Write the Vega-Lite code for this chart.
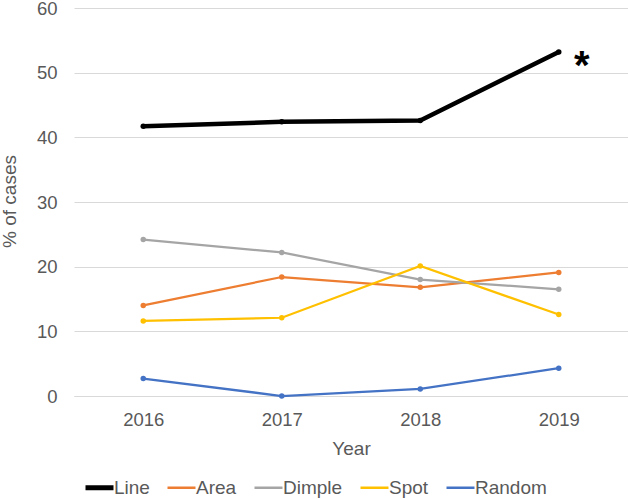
{
  "$schema": "https://vega.github.io/schema/vega-lite/v6.json",
  "autosize": {"type": "none"},
  "width": 554,
  "height": 388,
  "padding": {"left": 74, "top": 8, "right": 0, "bottom": 103},
  "background": "white",
  "config": {
    "view": {"stroke": null},
    "font": "Liberation Sans",
    "axis": {"labelColor": "#595959", "titleColor": "#595959", "labelFontSize": 18.5, "titleFontSize": 19, "titleFontWeight": "normal", "labelFont": "Liberation Sans", "titleFont": "Liberation Sans"},
    "legend": {"labelColor": "#595959", "labelFontSize": 19, "labelFont": "Liberation Sans"}
  },
  "data": {
    "values": [
      {"Year": "2016", "series": "Line", "value": 41.7},
      {"Year": "2017", "series": "Line", "value": 42.4},
      {"Year": "2018", "series": "Line", "value": 42.6},
      {"Year": "2019", "series": "Line", "value": 53.2},
      {"Year": "2016", "series": "Area", "value": 14.0},
      {"Year": "2017", "series": "Area", "value": 18.4},
      {"Year": "2018", "series": "Area", "value": 16.8},
      {"Year": "2019", "series": "Area", "value": 19.1},
      {"Year": "2016", "series": "Dimple", "value": 24.2},
      {"Year": "2017", "series": "Dimple", "value": 22.2},
      {"Year": "2018", "series": "Dimple", "value": 18.0},
      {"Year": "2019", "series": "Dimple", "value": 16.5},
      {"Year": "2016", "series": "Spot", "value": 11.6},
      {"Year": "2017", "series": "Spot", "value": 12.1},
      {"Year": "2018", "series": "Spot", "value": 20.1},
      {"Year": "2019", "series": "Spot", "value": 12.6},
      {"Year": "2016", "series": "Random", "value": 2.7},
      {"Year": "2017", "series": "Random", "value": 0.0},
      {"Year": "2018", "series": "Random", "value": 1.1},
      {"Year": "2019", "series": "Random", "value": 4.3}
    ]
  },
  "encoding": {
    "x": {
      "field": "Year", "type": "ordinal",
      "scale": {"type": "point", "padding": 0.5},
      "axis": {"title": "Year", "labelAngle": 0, "ticks": false, "domain": true, "domainColor": "#d9d9d9", "domainWidth": 1, "labelPadding": 14, "titleY": 52, "titleBaseline": "middle", "grid": false}
    },
    "y": {
      "field": "value", "type": "quantitative",
      "scale": {"domain": [0, 60], "nice": false},
      "axis": {"title": "% of cases", "values": [0, 10, 20, 30, 40, 50, 60], "ticks": false, "domain": false, "gridColor": "#d9d9d9", "gridWidth": 1, "labelPadding": 17, "titleX": -65, "titleY": 193, "titleAngle": -90, "titleAlign": "center", "titleBaseline": "middle"}
    }
  },
  "layer": [
    {
      "mark": {"type": "line", "point": {"filled": true, "size": 30}},
      "encoding": {
        "color": {
          "field": "series", "type": "nominal",
          "scale": {"domain": ["Line", "Area", "Dimple", "Spot", "Random"], "range": ["#000000", "#ED7D31", "#A5A5A5", "#FFC000", "#4472C4"]},
          "legend": {
            "title": null, "orient": "none", "direction": "horizontal",
            "legendX": 16, "legendY": 470,
            "symbolType": "stroke", "symbolSize": 784, "symbolStrokeWidth": 2.5,
            "labelOffset": 5, "columnPadding": 12,
            "encode": {"symbols": {"update": {"strokeWidth": {"signal": "datum.value === 'Line' ? 5 : 2.5"}}}}
          }
        },
        "strokeWidth": {"condition": {"test": "datum.series === 'Line'", "value": 4.5}, "value": 2.25},
        "order": {"field": "Year"}
      }
    },
    {
      "transform": [{"filter": "datum.series === 'Line' && datum.Year === '2019'"}],
      "mark": {"type": "text", "text": "*", "fontSize": 40, "fontWeight": "bold", "color": "#000000", "align": "center", "baseline": "alphabetic", "dx": 23, "dy": 27, "font": "Liberation Sans"}
    }
  ]
}
